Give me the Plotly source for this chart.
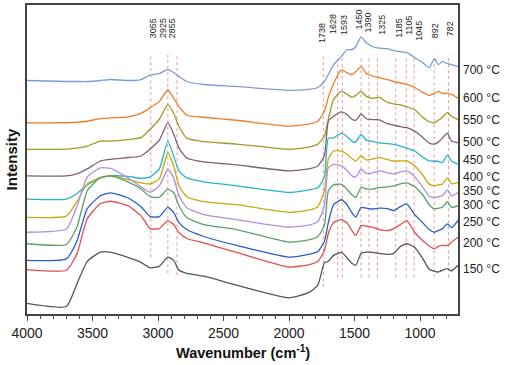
import plotly.graph_objects as go

# Wavenumber grid (cm-1)
wavenumber = [4000, 3700, 3620, 3540, 3440, 3360, 3230, 3130, 3060, 2990,
              2925, 2880, 2840, 2780, 2650, 2400, 2000, 1850, 1780, 1730,
              1700, 1660, 1600, 1560, 1520, 1490, 1450, 1410, 1360, 1310,
              1250, 1200, 1150, 1100, 1040, 980, 930, 890, 860, 830,
              790, 760, 710]

# Offset intensities (a.u.) for each temperature
s700 = [235, 234, 234, 234, 235, 236, 235, 236, 240.5, 242,
        246, 243, 239, 234, 231, 229, 225, 226, 228, 234,
        241, 251, 259, 266, 266, 269, 279, 273, 269, 267.5,
        267, 265, 264, 263, 258, 253, 248, 257, 251, 254,
        252, 251, 249]
s600 = [192.3, 192.5, 193, 194, 196.7, 197.3, 198.5, 202, 207.5, 214,
        225.7, 217, 209, 200, 198, 195, 189, 191, 194, 204,
        218, 232, 245.7, 243, 241, 244, 249, 242.3, 239.5, 238,
        236, 234, 232.5, 231, 228, 223, 220, 222, 224, 222,
        222, 221, 217.3]
s550 = [165.7, 166, 167, 169, 174, 174, 175.5, 177.5, 186, 196,
        210.7, 202, 189, 177, 173.5, 171, 165.7, 168, 171, 179,
        196, 216, 224, 221.5, 218, 220, 224, 219, 217, 218,
        213, 211.5, 210.5, 208.5, 205.5, 198, 193.5, 192.5, 195, 198,
        203, 199, 195.7]
s500 = [139, 139, 141, 146, 154, 155.7, 157.5, 159, 166, 175,
        192.3, 181, 167, 157, 153, 150, 144, 146, 149, 159,
        194, 199, 203.5, 201, 196, 195, 201.3, 196.5, 195.7, 195.5,
        191.5, 190, 188.5, 187.5, 184, 178, 172, 171, 173, 177,
        182, 174, 172.3]
s450 = [115.7, 115.7, 121, 130, 137, 139, 138.5, 136.5, 138, 146,
        174, 159, 144, 137, 133, 129, 122.3, 125, 127, 138,
        177, 177.3, 182, 179, 174, 173, 180.7, 175, 173.5, 172.3,
        171.5, 170.7, 169, 167, 164, 158, 154, 154, 153.5, 152.5,
        160, 154, 150.7]
s400 = [97.3, 98.5, 113, 131, 137.3, 139, 135.5, 132, 131, 136,
        162.3, 149, 129, 118, 113, 110, 102.3, 104.5, 108, 124,
        156, 164, 164, 161, 156.5, 154, 159, 155, 156, 157.3,
        155.5, 154, 154, 154, 149, 140, 130.7, 129, 130, 130.7,
        137, 131, 132.3]
s350 = [82.3, 85.5, 108, 138, 147, 146.5, 137, 128, 122.5, 129,
        145.7, 137, 119, 107, 100, 95, 87.3, 89.5, 93, 109,
        147.3, 150.5, 149, 145, 139, 138, 145.7, 141.5, 142, 144,
        142, 141, 143, 144, 138, 128, 118.5, 117.3, 118, 119,
        125, 119, 122.3]
s300 = [70.7, 70, 87, 124, 137.3, 139, 133, 126, 118, 117.5,
        125.7, 122, 109, 97, 90, 85, 72.3, 74.5, 78, 89,
        124, 130, 130.5, 126, 120, 117.3, 127.3, 126, 125.7, 127.3,
        128, 129, 131, 132, 128, 120, 110, 105.7, 106.5, 107.3,
        113, 107.3, 109]
s250 = [54, 55.5, 73, 106, 119, 122, 117, 108, 98, 98,
        107.3, 102, 92, 85, 78, 69, 57.3, 60, 63, 73,
        92, 110, 115, 110.5, 102, 97.3, 107.3, 106.5, 105.7, 106.5,
        106, 104, 108, 110.7, 100, 92, 85, 82.3, 84, 85.7,
        90.7, 87, 94]
s200 = [44.7, 44, 60, 96, 111, 113.5, 109, 99, 86, 86,
        94, 90, 82, 76, 71.5, 62, 47.3, 49.5, 53, 64,
        81, 92, 95, 92, 84, 79, 89, 88.5, 87.3, 85,
        84, 86, 90, 94, 82, 74, 68.5, 65.7, 68, 69,
        69, 72.3, 77.3]
s150 = [10.7, 7.5, 30, 53, 62.3, 62, 57, 52, 46.5, 48,
        57.3, 54, 44, 41, 38, 29, 16.3, 21.5, 29, 51.5,
        53, 59, 62, 57, 51, 49, 61, 62.3, 62, 61,
        60, 61, 68, 70.7, 67, 56, 45, 43, 42.3, 44,
        45.7, 43.3, 49]

temps = ["700 °C", "600 °C", "550 °C", "500 °C", "450 °C", "400 °C",
         "350 °C", "300 °C", "250 °C", "200 °C", "150 °C"]
series = [s700, s600, s550, s500, s450, s400, s350, s300, s250, s200, s150]
colors = ["#7b9cd8", "#f07d2a", "#9c9c2a", "#7e6070", "#26b4c6", "#c9a80e",
          "#ac8ee2", "#5c9e6a", "#2b5cc8", "#e05050", "#555555"]
label_y = [246, 217, 195, 173, 155, 138, 124, 110, 93, 71, 45]

peaks = [3055, 2925, 2855, 1738, 1628, 1593, 1450, 1390, 1325, 1185, 1105, 1045, 892, 782]
peak_label_x = [3032, 2957, 2893, 1746, 1659, 1580, 1468, 1399, 1287, 1162, 1085, 1009, 886, 772]
peak_label_y = [287.5, 287.5, 287.5, 283, 291.5, 291, 296, 293, 291.5, 288, 291, 285, 285.5, 287.5]
peak_line_bottom = [57, 41, 39, 27, 37, 37, 37, 37, 37, 37, 37, 37, 37, 37]
peak_line_top = 261

FONT = "Arial, Liberation Sans, sans-serif"

fig = go.Figure()
for name, ys, c in zip(temps, series, colors):
    fig.add_trace(go.Scatter(x=wavenumber, y=ys, mode="lines", name=name,
                             line=dict(color=c, width=1.3, shape="spline", smoothing=0.5),
                             showlegend=False))

shapes = []
for p, yb in zip(peaks, peak_line_bottom):
    shapes.append(dict(type="line", xref="x", yref="y", x0=p, x1=p, y0=yb, y1=peak_line_top,
                       line=dict(color="#e89898", width=1, dash="dot"), layer="below"))

annotations = []
for t, lx, ly in zip([str(v) for v in peaks], peak_label_x, peak_label_y):
    annotations.append(dict(x=lx, y=ly, xref="x", yref="y", text=t, textangle=-90,
                            showarrow=False, xanchor="center", yanchor="middle",
                            font=dict(family=FONT, size=9, color="#222")))
for t, ly in zip(temps, label_y):
    annotations.append(dict(x=1.008, y=ly, xref="paper", yref="y", text=t, showarrow=False,
                            xanchor="left", yanchor="middle",
                            font=dict(family=FONT, size=12, color="#222")))
annotations.append(dict(x=-0.035, y=0.5, xref="paper", yref="paper", text="<b>Intensity</b>",
                        textangle=-90, showarrow=False, xanchor="center", yanchor="middle",
                        font=dict(family=FONT, size=15, color="#111")))
annotations.append(dict(x=0.5, y=-0.122, xref="paper", yref="paper",
                        text="<b>Wavenumber (cm<sup>-1</sup>)</b>", showarrow=False,
                        xanchor="center", yanchor="middle",
                        font=dict(family=FONT, size=14.5, color="#111")))

fig.update_layout(
    width=505, height=365,
    margin=dict(l=27, r=47, t=3, b=51),
    paper_bgcolor="white", plot_bgcolor="white",
    shapes=shapes, annotations=annotations,
    xaxis=dict(range=[4000, 710], showgrid=False, zeroline=False,
               showline=True, linecolor="#444", linewidth=1.5, mirror=True,
               ticks="outside", ticklen=5, tickwidth=1, tickcolor="#444",
               tickmode="array", tickvals=[4000, 3500, 3000, 2500, 2000, 1500, 1000],
               ticktext=["4000", "3500", "3000", "2500", "2000", "1500", "1000"],
               tickfont=dict(family=FONT, size=14, color="#222"),
               minor=dict(dtick=100, tick0=0, ticks="outside", ticklen=3, tickcolor="#444", showgrid=False)),
    yaxis=dict(range=[0, 311], showgrid=False, zeroline=False, showticklabels=False,
               showline=True, linecolor="#444", linewidth=1.5, mirror=True, ticks=""),
)

fig.write_html("out.html", config={"displayModeBar": False},
               post_script="document.body.style.margin='0';document.body.style.padding='0';"
                           "document.documentElement.style.overflow='hidden';")
